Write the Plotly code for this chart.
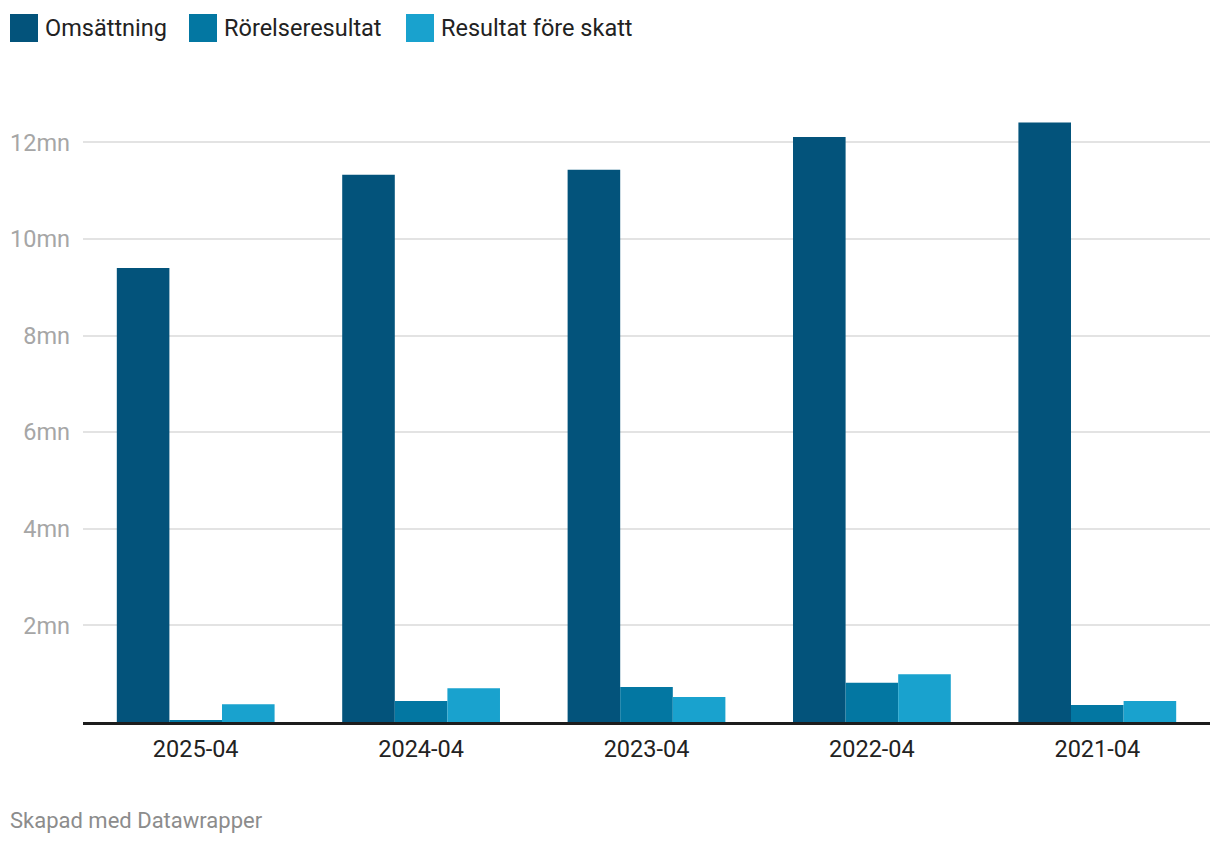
import plotly.graph_objects as go

categories = ["2025-04", "2024-04", "2023-04", "2022-04", "2021-04"]
series_names = ["Omsättning", "Rörelseresultat", "Resultat före skatt"]
omsattning = [9.40, 11.33, 11.43, 12.11, 12.41]
rorelseresultat = [0.025, 0.435, 0.725, 0.81, 0.35]
resultat_fore_skatt = [0.37, 0.70, 0.52, 0.99, 0.435]
colors = ["#03537b", "#0377a2", "#19a2ce"]
ytick_vals = [2, 4, 6, 8, 10, 12]
ytick_text = ["2mn", "4mn", "6mn", "8mn", "10mn", "12mn"]

FONT = "Roboto"
OFF = 8  # default page body margin
W, H = 1212, 836
ML, MR, MT, MB = 75, 10, 86, 122
PW, PH = W - ML - MR, H - MT - MB


def px(xp):
    return (xp - OFF - ML) / PW


def py(yp):
    return (H - MB - (yp - OFF)) / PH


fig = go.Figure()
for name, vals, col in zip(series_names, [omsattning, rorelseresultat, resultat_fore_skatt], colors):
    fig.add_trace(go.Bar(x=categories, y=vals, name=name, marker=dict(color=col, line=dict(width=0)),
                         showlegend=False))

fig.update_layout(
    width=W, height=H,
    margin=dict(l=ML, r=MR, t=MT, b=MB, autoexpand=False),
    paper_bgcolor="white", plot_bgcolor="white",
    barmode="group", bargap=0.3, bargroupgap=0,
    font=dict(family=FONT),
    xaxis=dict(type="category", showgrid=False, showline=True, linecolor="#1d1d1d", linewidth=2.5,
               ticks="outside", ticklen=4, tickcolor="rgba(0,0,0,0)",
               tickfont=dict(size=23.5, color="#222222", family=FONT)),
    yaxis=dict(range=[0, 13], tickvals=ytick_vals, ticktext=ytick_text,
               showgrid=True, gridcolor="#e3e3e3", gridwidth=1.5,
               zeroline=False, showline=False, ticks="",
               ticklabelstandoff=12,
               tickfont=dict(size=23.5, color="#a6a6a6", family=FONT)),
)

# custom legend (page-pixel positions)
sq_x = [10, 189, 406]
txt_x = [45, 224, 441]
for name, col, sx, tx in zip(series_names, colors, sq_x, txt_x):
    fig.add_shape(type="rect", xref="paper", yref="paper",
                  x0=px(sx), x1=px(sx + 28), y0=py(42), y1=py(14),
                  line=dict(width=0), fillcolor=col)
    fig.add_annotation(xref="paper", yref="paper", x=px(tx - 2), y=py(28), text=name,
                       showarrow=False, xanchor="left", yanchor="middle",
                       font=dict(size=23.5, color="#222222", family=FONT))

fig.add_annotation(xref="paper", yref="paper", x=px(8), y=py(820),
                   text="Skapad med Datawrapper", showarrow=False,
                   xanchor="left", yanchor="middle",
                   font=dict(size=22, color="#8c8c8c", family=FONT))

fig.write_html("out.html")
